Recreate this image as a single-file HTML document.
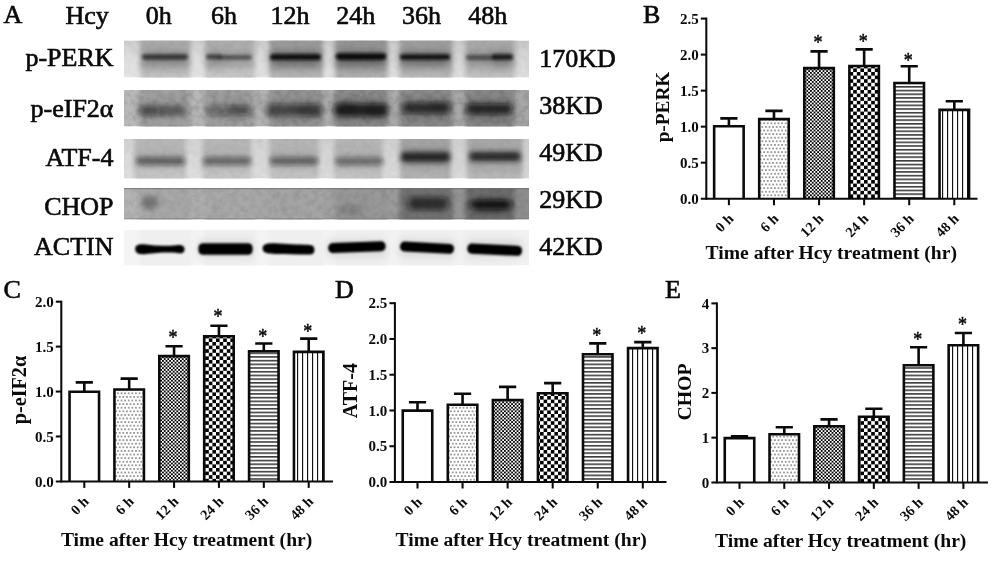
<!DOCTYPE html>
<html lang="en">
<head>
<meta charset="utf-8">
<title>Figure</title>
<style>
html,body{margin:0;padding:0;background:#fff;}
body{width:1000px;height:567px;overflow:hidden;}
svg{display:block;}
text{font-family:"Liberation Serif","DejaVu Serif",serif;fill:#0a0a0a;}
.lab{font-size:26px;stroke:#0a0a0a;stroke-width:0.65px;}
.b{font-weight:bold;}
.tk{font-size:15px;font-weight:bold;}
.xt{font-size:14.4px;font-weight:bold;}
.ti{font-size:19.6px;font-weight:bold;}
.yl{font-size:19.3px;font-weight:bold;}
.st{font-size:20px;stroke:#0a0a0a;stroke-width:0.5px;}
.ln{stroke:#0a0a0a;stroke-width:2.6;fill:none;}
.ax{stroke:#0a0a0a;stroke-width:2.05;fill:none;}
</style>
</head>
<body>
<svg width="1000" height="567" viewBox="0 0 1000 567">
<defs>
<pattern id="pdots" width="3.6" height="7.2" patternUnits="userSpaceOnUse">
<rect width="3.6" height="7.2" fill="#fff"/>
<rect x="0.3" y="0.3" width="1.25" height="1.25" fill="#2a2a2a"/>
<rect x="2.1" y="3.9" width="1.25" height="1.25" fill="#2a2a2a"/>
</pattern>
<pattern id="pfine" width="3.6" height="3.6" patternUnits="userSpaceOnUse">
<rect width="3.6" height="3.6" fill="#fff"/>
<rect x="0" y="0" width="1.8" height="1.8" fill="#000"/>
<rect x="1.8" y="1.8" width="1.8" height="1.8" fill="#000"/>
</pattern>
<pattern id="pbig" width="7.2" height="7.2" patternUnits="userSpaceOnUse">
<rect width="7.2" height="7.2" fill="#fff"/>
<rect x="0" y="0" width="3.6" height="3.6" fill="#000"/>
<rect x="3.6" y="3.6" width="3.6" height="3.6" fill="#000"/>
</pattern>
<pattern id="phor" width="8" height="3.7" patternUnits="userSpaceOnUse">
<rect width="8" height="3.7" fill="#fff"/>
<rect x="0" y="1.1" width="8" height="1.3" fill="#111"/>
</pattern>
<pattern id="pver" width="5" height="8" patternUnits="userSpaceOnUse">
<rect width="5" height="8" fill="#fff"/>
<rect x="2" y="0" width="1.15" height="8" fill="#111"/>
</pattern>
<filter id="bl1" x="-20%" y="-100%" width="140%" height="300%"><feGaussianBlur stdDeviation="1.6 1.1"/></filter>
<filter id="bl2" x="-20%" y="-100%" width="140%" height="300%"><feGaussianBlur stdDeviation="3 2.4"/></filter>
<filter id="bl3" x="-20%" y="-100%" width="140%" height="300%"><feGaussianBlur stdDeviation="2.2 1.8"/></filter>
<filter id="bl4" x="-30%" y="-100%" width="160%" height="300%"><feGaussianBlur stdDeviation="4 3"/></filter>
<filter id="bl5" x="-20%" y="-100%" width="140%" height="300%"><feGaussianBlur stdDeviation="1.8 1.2"/></filter>
<filter id="lane" x="-20%" y="-20%" width="140%" height="140%"><feGaussianBlur stdDeviation="2 0.1"/></filter>
<filter id="halo" x="-30%" y="-100%" width="160%" height="300%"><feGaussianBlur stdDeviation="4 4"/></filter>
<filter id="noise" x="0" y="0" width="100%" height="100%">
<feTurbulence type="fractalNoise" baseFrequency="0.16" numOctaves="3" seed="7" result="n"/>
<feColorMatrix in="n" type="matrix" values="0 0 0 0 0  0 0 0 0 0  0 0 0 0 0  1.2 0 0 0 -0.45"/>
</filter>

<clipPath id="cs0"><rect x="124" y="40.5" width="405" height="37"/></clipPath>
<clipPath id="cs1"><rect x="124" y="90" width="405" height="36.5"/></clipPath>
<clipPath id="cs2"><rect x="124" y="139" width="405" height="39.5"/></clipPath>
<clipPath id="cs3"><rect x="124" y="188" width="405" height="31.5"/></clipPath>
<clipPath id="cs4"><rect x="124" y="230" width="405" height="35.5"/></clipPath>
</defs>
<rect width="1000" height="567" fill="#fff"/>
<g class="lab">
<text x="3.5" y="22.8">A</text>
<text x="65.5" y="23.5">Hcy</text>
<text x="158.7" y="24" text-anchor="middle">0h</text>
<text x="224" y="24" text-anchor="middle">6h</text>
<text x="290" y="24" text-anchor="middle">12h</text>
<text x="355.7" y="24" text-anchor="middle">24h</text>
<text x="421.5" y="24" text-anchor="middle">36h</text>
<text x="487.8" y="24" text-anchor="middle">48h</text>
<text x="113.5" y="65.6" text-anchor="end">p-PERK</text>
<text x="539.3" y="66.6">170KD</text>
<text x="113.5" y="116.7" text-anchor="end">p-eIF2α</text>
<text x="539.3" y="113.5">38KD</text>
<text x="113.5" y="166" text-anchor="end">ATF-4</text>
<text x="539.3" y="160.7">49KD</text>
<text x="113.5" y="215" text-anchor="end">CHOP</text>
<text x="539.3" y="208.2">29KD</text>
<text x="113.5" y="254.5" text-anchor="end">ACTIN</text>
<text x="539.3" y="254.7">42KD</text>
</g>
<linearGradient id="sg0" x1="0" x2="1" y1="0" y2="0"><stop offset="0" stop-color="#e0e0e0"/><stop offset="1" stop-color="#d8d8d8"/></linearGradient>
<filter id="bf0" x="-30%" y="-150%" width="160%" height="400%"><feGaussianBlur stdDeviation="1.8 1.4"/></filter>
<g clip-path="url(#cs0)">
<rect x="124" y="40.5" width="405" height="37" fill="url(#sg0)"/>
<g filter="url(#lane)">
<rect x="140" y="38.5" width="50.5" height="41" fill="#b8b8b8"/>
<rect x="205" y="38.5" width="50" height="41" fill="#bcbcbc"/>
<rect x="269.5" y="38.5" width="53.5" height="41" fill="#a8a8a8"/>
<rect x="335" y="38.5" width="52.5" height="41" fill="#a2a2a2"/>
<rect x="399.5" y="38.5" width="53" height="41" fill="#acacac"/>
<rect x="465.5" y="38.5" width="49" height="41" fill="#b6b6b6"/>
</g>
<linearGradient id="vg0" x1="0" x2="0" y1="0" y2="1"><stop offset="0" stop-color="#000" stop-opacity="0.09"/><stop offset=".45" stop-color="#000" stop-opacity="0"/><stop offset=".55" stop-color="#fff" stop-opacity="0"/><stop offset="1" stop-color="#fff" stop-opacity="0.16"/></linearGradient>
<rect x="124" y="40.5" width="405" height="37" fill="url(#vg0)"/>
<g filter="url(#halo)" opacity="0.36">
<rect x="142" y="51" width="46" height="16" fill="#000" opacity="0.72"/>
<rect x="206" y="51" width="16" height="16" fill="#000" opacity="0.64"/>
<rect x="218" y="51" width="34" height="16" fill="#000" opacity="0.46"/>
<rect x="270" y="51" width="51" height="16" fill="#000" opacity="0.97"/>
<rect x="336" y="51" width="50" height="16" fill="#000" opacity="1"/>
<rect x="400" y="51" width="50" height="16" fill="#000" opacity="0.95"/>
<rect x="466" y="51" width="30" height="16" fill="#000" opacity="0.56"/>
<rect x="492" y="51" width="21" height="16" fill="#000" opacity="0.85"/>
</g>
<g filter="url(#bf0)">
<rect x="142" y="54.6" width="46" height="4.8" rx="2.4" fill="#0c0c0c" opacity="0.72"/>
<rect x="206" y="54.4" width="16" height="4.8" rx="2.4" fill="#0c0c0c" opacity="0.64"/>
<rect x="218" y="55.1" width="34" height="4.6" rx="2.3" fill="#0c0c0c" opacity="0.46"/>
<rect x="270" y="53.9" width="51" height="6.2" rx="3.1" fill="#0c0c0c" opacity="0.97"/>
<rect x="336" y="53.3" width="50" height="6.6" rx="3.3" fill="#0c0c0c" opacity="1"/>
<rect x="400" y="54.2" width="50" height="5.6" rx="2.8" fill="#0c0c0c" opacity="0.95"/>
<rect x="466" y="54.9" width="30" height="4.8" rx="2.4" fill="#0c0c0c" opacity="0.56"/>
<rect x="492" y="54" width="21" height="6" rx="3" fill="#0c0c0c" opacity="0.85"/>
</g>
<rect x="124" y="40.5" width="405" height="37" fill="#000" filter="url(#noise)" opacity="0.07"/>
</g>
<linearGradient id="sg1" x1="0" x2="1" y1="0" y2="0"><stop offset="0" stop-color="#bababa"/><stop offset="1" stop-color="#a6a6a6"/></linearGradient>
<filter id="bf1" x="-30%" y="-150%" width="160%" height="400%"><feGaussianBlur stdDeviation="3.2 2.4"/></filter>
<g clip-path="url(#cs1)">
<rect x="124" y="90" width="405" height="36.5" fill="url(#sg1)"/>
<g filter="url(#lane)">
<rect x="140" y="88" width="50.5" height="40.5" fill="#a2a2a2"/>
<rect x="205" y="88" width="50" height="40.5" fill="#a0a0a0"/>
<rect x="269.5" y="88" width="53.5" height="40.5" fill="#969696"/>
<rect x="335" y="88" width="52.5" height="40.5" fill="#8c8c8c"/>
<rect x="399.5" y="88" width="53" height="40.5" fill="#8c8c8c"/>
<rect x="465.5" y="88" width="49" height="40.5" fill="#8a8a8a"/>
</g>
<g filter="url(#halo)" opacity="0.14">
<rect x="138" y="98" width="48" height="24" fill="#000" opacity="0.4"/>
<rect x="140" y="98" width="20" height="24" fill="#000" opacity="0.22"/>
<rect x="206" y="98" width="44" height="24" fill="#000" opacity="0.36"/>
<rect x="228" y="98" width="22" height="24" fill="#000" opacity="0.25"/>
<rect x="266" y="98" width="56" height="24" fill="#000" opacity="0.56"/>
<rect x="296" y="98" width="26" height="24" fill="#000" opacity="0.24"/>
<rect x="334" y="98" width="54" height="24" fill="#000" opacity="0.78"/>
<rect x="336" y="98" width="22" height="24" fill="#000" opacity="0.4"/>
<rect x="364" y="98" width="22" height="24" fill="#000" opacity="0.4"/>
<rect x="402" y="98" width="48" height="24" fill="#000" opacity="0.74"/>
<rect x="430" y="98" width="20" height="24" fill="#000" opacity="0.24"/>
<rect x="466" y="98" width="46" height="24" fill="#000" opacity="0.78"/>
</g>
<g filter="url(#bf1)">
<rect x="138" y="105.5" width="48" height="10" rx="4.5" fill="#101010" opacity="0.4"/>
<rect x="140" y="106" width="20" height="10" rx="4.5" fill="#101010" opacity="0.22"/>
<rect x="206" y="105.5" width="44" height="10" rx="4.5" fill="#101010" opacity="0.36"/>
<rect x="228" y="104.5" width="22" height="11" rx="4.5" fill="#101010" opacity="0.25"/>
<rect x="266" y="104" width="56" height="12" rx="4.5" fill="#101010" opacity="0.56"/>
<rect x="296" y="105.5" width="26" height="11" rx="4.5" fill="#101010" opacity="0.24"/>
<rect x="334" y="103.5" width="54" height="13" rx="4.5" fill="#101010" opacity="0.78"/>
<rect x="336" y="102.5" width="22" height="13" rx="4.5" fill="#101010" opacity="0.4"/>
<rect x="364" y="105" width="22" height="12" rx="4.5" fill="#101010" opacity="0.4"/>
<rect x="402" y="102.5" width="48" height="11" rx="4.5" fill="#101010" opacity="0.74"/>
<rect x="430" y="101.5" width="20" height="11" rx="4.5" fill="#101010" opacity="0.24"/>
<rect x="466" y="103.5" width="46" height="11" rx="4.5" fill="#101010" opacity="0.78"/>
</g>
<rect x="124" y="90" width="405" height="36.5" fill="#000" filter="url(#noise)" opacity="0.22"/>
</g>
<linearGradient id="sg2" x1="0" x2="1" y1="0" y2="0"><stop offset="0" stop-color="#dadada"/><stop offset="1" stop-color="#d4d4d4"/></linearGradient>
<filter id="bf2" x="-30%" y="-150%" width="160%" height="400%"><feGaussianBlur stdDeviation="2.6 2.5"/></filter>
<g clip-path="url(#cs2)">
<rect x="124" y="139" width="405" height="39.5" fill="url(#sg2)"/>
<g filter="url(#lane)">
<rect x="134" y="137" width="51.5" height="43.5" fill="#bcbcbc"/>
<rect x="202.5" y="137" width="48.5" height="43.5" fill="#bcbcbc"/>
<rect x="269.5" y="137" width="49.25" height="43.5" fill="#bababa"/>
<rect x="334.5" y="137" width="48" height="43.5" fill="#bababa"/>
<rect x="400" y="137" width="51" height="43.5" fill="#a8a8a8"/>
<rect x="467" y="137" width="55.5" height="43.5" fill="#acacac"/>
</g>
<linearGradient id="vg2" x1="0" x2="0" y1="0" y2="1"><stop offset="0" stop-color="#000" stop-opacity="0.03"/><stop offset=".45" stop-color="#000" stop-opacity="0"/><stop offset=".55" stop-color="#fff" stop-opacity="0"/><stop offset="1" stop-color="#fff" stop-opacity="0.14"/></linearGradient>
<rect x="124" y="139" width="405" height="39.5" fill="url(#vg2)"/>
<g filter="url(#halo)" opacity="0.1">
<rect x="136" y="149" width="49" height="18" fill="#000" opacity="0.54"/>
<rect x="203" y="149" width="48" height="18" fill="#000" opacity="0.5"/>
<rect x="270" y="149" width="48" height="18" fill="#000" opacity="0.52"/>
<rect x="335" y="149" width="48" height="18" fill="#000" opacity="0.47"/>
<rect x="401" y="149" width="49" height="18" fill="#000" opacity="0.95"/>
<rect x="469" y="149" width="52" height="18" fill="#000" opacity="0.88"/>
</g>
<g filter="url(#bf2)">
<rect x="136" y="157" width="49" height="8" rx="4" fill="#1a1a1a" opacity="0.54"/>
<rect x="203" y="157" width="48" height="8" rx="4" fill="#1a1a1a" opacity="0.5"/>
<rect x="270" y="157" width="48" height="8" rx="4" fill="#1a1a1a" opacity="0.52"/>
<rect x="335" y="157.3" width="48" height="8" rx="4" fill="#1a1a1a" opacity="0.47"/>
<rect x="401" y="152" width="49" height="10" rx="4.5" fill="#1a1a1a" opacity="0.95"/>
<rect x="469" y="152.1" width="52" height="9" rx="4.5" fill="#1a1a1a" opacity="0.88"/>
</g>
<rect x="124" y="139" width="405" height="39.5" fill="#000" filter="url(#noise)" opacity="0.07"/>
</g>
<linearGradient id="sg3" x1="0" x2="1" y1="0" y2="0"><stop offset="0" stop-color="#b4b4b4"/><stop offset="1" stop-color="#8e8e8e"/></linearGradient>
<filter id="bf3" x="-30%" y="-150%" width="160%" height="400%"><feGaussianBlur stdDeviation="3.6 2.8"/></filter>
<g clip-path="url(#cs3)">
<rect x="124" y="188" width="405" height="31.5" fill="url(#sg3)"/>
<g filter="url(#lane)">
<rect x="140" y="186" width="50.5" height="35.5" fill="#a8a8a8"/>
<rect x="205" y="186" width="50" height="35.5" fill="#a8a8a8"/>
<rect x="269.5" y="186" width="53.5" height="35.5" fill="#a4a4a4"/>
<rect x="335" y="186" width="52.5" height="35.5" fill="#989898"/>
<rect x="399.5" y="186" width="53" height="35.5" fill="#727272"/>
<rect x="465.5" y="186" width="49" height="35.5" fill="#6c6c6c"/>
</g>
<g filter="url(#bf3)">
<rect x="142" y="196" width="16" height="13" rx="4.5" fill="#101010" opacity="0.3"/>
<rect x="338" y="204" width="24" height="12" rx="4.5" fill="#101010" opacity="0.13"/>
<rect x="408" y="197" width="40" height="13" rx="4.5" fill="#101010" opacity="0.7"/>
<rect x="470" y="200" width="42" height="9" rx="4.5" fill="#101010" opacity="0.92"/>
<rect x="474" y="198" width="34" height="16" rx="4.5" fill="#101010" opacity="0.3"/>
</g>
<rect x="124" y="188" width="405" height="31.5" fill="#000" filter="url(#noise)" opacity="0.15"/>
<rect x="124" y="188" width="405" height="1.2" fill="#6e6e6e" opacity=".7"/>
<rect x="124" y="218.3" width="405" height="1.2" fill="#6e6e6e" opacity=".5"/>
</g>
<linearGradient id="sg4" x1="0" x2="1" y1="0" y2="0"><stop offset="0" stop-color="#f4f4f4"/><stop offset="1" stop-color="#f1f1f1"/></linearGradient>
<filter id="bf4" x="-30%" y="-150%" width="160%" height="400%"><feGaussianBlur stdDeviation="1.3 0.9"/></filter>
<g clip-path="url(#cs4)">
<rect x="124" y="230" width="405" height="35.5" fill="url(#sg4)"/>
<g filter="url(#lane)">
<rect x="140" y="228" width="50.5" height="39.5" fill="#efefef"/>
<rect x="205" y="228" width="50" height="39.5" fill="#efefef"/>
<rect x="269.5" y="228" width="53.5" height="39.5" fill="#efefef"/>
<rect x="335" y="228" width="52.5" height="39.5" fill="#efefef"/>
<rect x="399.5" y="228" width="53" height="39.5" fill="#efefef"/>
<rect x="465.5" y="228" width="49" height="39.5" fill="#efefef"/>
</g>
<g filter="url(#halo)" opacity="0.1">
<rect x="198.4" y="240.5" width="54.2" height="16" fill="#000" opacity="1"/>
<rect x="328.2" y="240.5" width="57.4" height="16" fill="#000" opacity="1"/>
<rect x="400" y="240.5" width="54" height="16" fill="#000" opacity="1"/>
<rect x="467.3" y="240.5" width="54.7" height="16" fill="#000" opacity="1"/>
</g>
<g filter="url(#bf4)">
<rect x="198.4" y="243.2" width="54.2" height="11.6" rx="4.5" fill="#030303" opacity="1"/>
<rect x="328.2" y="242.1" width="57.4" height="10" rx="4.5" fill="#030303" opacity="1" transform="rotate(-2.1 356.9 247.1)"/>
<rect x="400" y="242.7" width="54" height="10" rx="4.5" fill="#030303" opacity="1" transform="rotate(3 427 247.7)"/>
<rect x="467.3" y="244.6" width="54.7" height="10.2" rx="4.5" fill="#030303" opacity="1" transform="rotate(2.6 494.65 249.7)"/>
<path d="M135.2 249C135.2 244.6 140 243.6 146 244.6C156 246 166 246.2 176 245.3C181 244.7 184.4 245.2 184.6 249.4C184.4 253.3 181 253.9 176 252.7C166 252.2 156 252.6 146 254.1C140 254.8 135.2 253.8 135.2 249Z" fill="#030303"/>
<path d="M262.6 248.6C262.6 243.8 267 242.9 275 243.2C285 243.9 300 244.6 308 244.8C313 245 314.4 246.6 314.4 249.8C314.4 253.3 313 254.7 308 254.6C298 254.5 285 254.4 275 254.1C267 253.8 262.6 253 262.6 248.6Z" fill="#030303"/>
</g>
</g>
<g>
<text class="lab" x="643" y="22.8">B</text>
<text class="tk" x="698.7" y="203.8" text-anchor="end">0.0</text>
<path class="ax" d="M700.8 162.68H706.3"/>
<text class="tk" x="698.7" y="167.78" text-anchor="end">0.5</text>
<path class="ax" d="M700.8 126.66H706.3"/>
<text class="tk" x="698.7" y="131.76" text-anchor="end">1.0</text>
<path class="ax" d="M700.8 90.64H706.3"/>
<text class="tk" x="698.7" y="95.74" text-anchor="end">1.5</text>
<path class="ax" d="M700.8 54.62H706.3"/>
<text class="tk" x="698.7" y="59.72" text-anchor="end">2.0</text>
<path class="ax" d="M700.8 18.6H706.3"/>
<text class="tk" x="698.7" y="23.7" text-anchor="end">2.5</text>
<path class="ln" d="M728.9 126.2V118.4M720.3 118.4H737.5"/>
<path class="ln" d="M714.15 198.7V126.2H743.65V198.7" style="fill:#fff"/>
<path class="ax" d="M728.9 198.7V205.2"/>
<text class="xt" transform="translate(734.3 219.7) rotate(-45)" text-anchor="end">0 h</text>
<path class="ln" d="M773.98 119.1V110.9M765.38 110.9H782.58"/>
<path class="ln" d="M759.23 198.7V119.1H788.73V198.7" style="fill:url(#pdots)"/>
<path class="ax" d="M773.98 198.7V205.2"/>
<text class="xt" transform="translate(779.38 219.7) rotate(-45)" text-anchor="end">6 h</text>
<path class="ln" d="M819.06 68.1V51.4M810.46 51.4H827.66"/>
<path class="ln" d="M804.31 198.7V68.1H833.81V198.7" style="fill:url(#pfine)"/>
<path class="ax" d="M819.06 198.7V205.2"/>
<text class="xt" transform="translate(824.46 219.7) rotate(-45)" text-anchor="end">12 h</text>
<text class="st" transform="translate(818.06 49.35) scale(.9 1.1)" text-anchor="middle">*</text>
<path class="ln" d="M864.14 66V49.4M855.54 49.4H872.74"/>
<path class="ln" d="M849.39 198.7V66H878.89V198.7" style="fill:url(#pbig)"/>
<path class="ax" d="M864.14 198.7V205.2"/>
<text class="xt" transform="translate(869.54 219.7) rotate(-45)" text-anchor="end">24 h</text>
<text class="st" transform="translate(863.14 47.5) scale(.9 1.1)" text-anchor="middle">*</text>
<path class="ln" d="M909.22 83V66.2M900.62 66.2H917.82"/>
<path class="ln" d="M894.47 198.7V83H923.97V198.7" style="fill:url(#phor)"/>
<path class="ax" d="M909.22 198.7V205.2"/>
<text class="xt" transform="translate(914.62 219.7) rotate(-45)" text-anchor="end">36 h</text>
<text class="st" transform="translate(908.22 66.5) scale(.9 1.1)" text-anchor="middle">*</text>
<path class="ln" d="M954.3 109.9V101.25M945.7 101.25H962.9"/>
<path class="ln" d="M939.55 198.7V109.9H969.05V198.7" style="fill:url(#pver)"/>
<path class="ax" d="M954.3 198.7V205.2"/>
<text class="xt" transform="translate(959.7 219.7) rotate(-45)" text-anchor="end">48 h</text>
<path class="ax" d="M706.3 17.6V199.7"/>
<path class="ax" d="M700.8 198.7H977.5"/>
<text class="yl" style="font-size:19.3px" transform="translate(669.4 107) rotate(-90)" text-anchor="middle">p-PERK</text>
<text class="ti" x="705.6" y="258.8">Time after Hcy treatment (hr)</text>
</g>
<g>
<text class="lab" x="3.5" y="297.8">C</text>
<text class="tk" x="53.7" y="486.5" text-anchor="end">0.0</text>
<path class="ax" d="M55.8 436.47H61.3"/>
<text class="tk" x="53.7" y="441.57" text-anchor="end">0.5</text>
<path class="ax" d="M55.8 391.55H61.3"/>
<text class="tk" x="53.7" y="396.65" text-anchor="end">1.0</text>
<path class="ax" d="M55.8 346.62H61.3"/>
<text class="tk" x="53.7" y="351.73" text-anchor="end">1.5</text>
<path class="ax" d="M55.8 301.7H61.3"/>
<text class="tk" x="53.7" y="306.8" text-anchor="end">2.0</text>
<path class="ln" d="M84.3 391.7V382.4M75.7 382.4H92.9"/>
<path class="ln" d="M69.55 481.4V391.7H99.05V481.4" style="fill:#fff"/>
<path class="ax" d="M84.3 481.4V487.9"/>
<text class="xt" transform="translate(89.7 502.4) rotate(-45)" text-anchor="end">0 h</text>
<path class="ln" d="M129.18 389.5V378.6M120.58 378.6H137.78"/>
<path class="ln" d="M114.43 481.4V389.5H143.93V481.4" style="fill:url(#pdots)"/>
<path class="ax" d="M129.18 481.4V487.9"/>
<text class="xt" transform="translate(134.58 502.4) rotate(-45)" text-anchor="end">6 h</text>
<path class="ln" d="M174.06 356.1V346.25M165.46 346.25H182.66"/>
<path class="ln" d="M159.31 481.4V356.1H188.81V481.4" style="fill:url(#pfine)"/>
<path class="ax" d="M174.06 481.4V487.9"/>
<text class="xt" transform="translate(179.46 502.4) rotate(-45)" text-anchor="end">12 h</text>
<text class="st" transform="translate(173.06 344.35) scale(.9 1.1)" text-anchor="middle">*</text>
<path class="ln" d="M218.94 336.2V325.75M210.34 325.75H227.54"/>
<path class="ln" d="M204.19 481.4V336.2H233.69V481.4" style="fill:url(#pbig)"/>
<path class="ax" d="M218.94 481.4V487.9"/>
<text class="xt" transform="translate(224.34 502.4) rotate(-45)" text-anchor="end">24 h</text>
<text class="st" transform="translate(217.94 322.5) scale(.9 1.1)" text-anchor="middle">*</text>
<path class="ln" d="M263.82 351.2V343.5M255.22 343.5H272.42"/>
<path class="ln" d="M249.07 481.4V351.2H278.57V481.4" style="fill:url(#phor)"/>
<path class="ax" d="M263.82 481.4V487.9"/>
<text class="xt" transform="translate(269.22 502.4) rotate(-45)" text-anchor="end">36 h</text>
<text class="st" transform="translate(262.82 343.1) scale(.9 1.1)" text-anchor="middle">*</text>
<path class="ln" d="M308.7 351.9V338.6M300.1 338.6H317.3"/>
<path class="ln" d="M293.95 481.4V351.9H323.45V481.4" style="fill:url(#pver)"/>
<path class="ax" d="M308.7 481.4V487.9"/>
<text class="xt" transform="translate(314.1 502.4) rotate(-45)" text-anchor="end">48 h</text>
<text class="st" transform="translate(307.7 337.8) scale(.9 1.1)" text-anchor="middle">*</text>
<path class="ax" d="M61.3 300.7V482.4"/>
<path class="ax" d="M55.8 481.4H333"/>
<text class="yl" style="font-size:20.2px" transform="translate(25.8 390) rotate(-90)" text-anchor="middle">p-eIF2α</text>
<text class="ti" x="60.9" y="545.8">Time after Hcy treatment (hr)</text>
</g>
<g>
<text class="lab" x="335" y="297.8">D</text>
<text class="tk" x="387.3" y="487.1" text-anchor="end">0.0</text>
<path class="ax" d="M389.4 446.24H394.9"/>
<text class="tk" x="387.3" y="451.34" text-anchor="end">0.5</text>
<path class="ax" d="M389.4 410.48H394.9"/>
<text class="tk" x="387.3" y="415.58" text-anchor="end">1.0</text>
<path class="ax" d="M389.4 374.72H394.9"/>
<text class="tk" x="387.3" y="379.82" text-anchor="end">1.5</text>
<path class="ax" d="M389.4 338.96H394.9"/>
<text class="tk" x="387.3" y="344.06" text-anchor="end">2.0</text>
<path class="ax" d="M389.4 303.2H394.9"/>
<text class="tk" x="387.3" y="308.3" text-anchor="end">2.5</text>
<path class="ln" d="M417.5 410.6V402.25M408.9 402.25H426.1"/>
<path class="ln" d="M402.75 482V410.6H432.25V482" style="fill:#fff"/>
<path class="ax" d="M417.5 482V488.5"/>
<text class="xt" transform="translate(422.9 503) rotate(-45)" text-anchor="end">0 h</text>
<path class="ln" d="M462.56 404.7V393.75M453.96 393.75H471.16"/>
<path class="ln" d="M447.81 482V404.7H477.31V482" style="fill:url(#pdots)"/>
<path class="ax" d="M462.56 482V488.5"/>
<text class="xt" transform="translate(467.96 503) rotate(-45)" text-anchor="end">6 h</text>
<path class="ln" d="M507.62 400V386.9M499.02 386.9H516.22"/>
<path class="ln" d="M492.87 482V400H522.37V482" style="fill:url(#pfine)"/>
<path class="ax" d="M507.62 482V488.5"/>
<text class="xt" transform="translate(513.02 503) rotate(-45)" text-anchor="end">12 h</text>
<path class="ln" d="M552.68 393.2V383.1M544.08 383.1H561.28"/>
<path class="ln" d="M537.93 482V393.2H567.43V482" style="fill:url(#pbig)"/>
<path class="ax" d="M552.68 482V488.5"/>
<text class="xt" transform="translate(558.08 503) rotate(-45)" text-anchor="end">24 h</text>
<path class="ln" d="M597.74 354.3V343.4M589.14 343.4H606.34"/>
<path class="ln" d="M582.99 482V354.3H612.49V482" style="fill:url(#phor)"/>
<path class="ax" d="M597.74 482V488.5"/>
<text class="xt" transform="translate(603.14 503) rotate(-45)" text-anchor="end">36 h</text>
<text class="st" transform="translate(596.74 342) scale(.9 1.1)" text-anchor="middle">*</text>
<path class="ln" d="M642.8 348.1V342.1M634.2 342.1H651.4"/>
<path class="ln" d="M628.05 482V348.1H657.55V482" style="fill:url(#pver)"/>
<path class="ax" d="M642.8 482V488.5"/>
<text class="xt" transform="translate(648.2 503) rotate(-45)" text-anchor="end">48 h</text>
<text class="st" transform="translate(641.8 339.8) scale(.9 1.1)" text-anchor="middle">*</text>
<path class="ax" d="M394.9 302.2V483"/>
<path class="ax" d="M389.4 482H666.5"/>
<text class="yl" style="font-size:20px" transform="translate(357.3 390.7) rotate(-90)" text-anchor="middle">ATF-4</text>
<text class="ti" x="395.5" y="546.2">Time after Hcy treatment (hr)</text>
</g>
<g>
<text class="lab" x="665" y="297.8">E</text>
<text class="tk" x="709.3" y="487.5" text-anchor="end">0</text>
<path class="ax" d="M711.4 437.65H716.9"/>
<text class="tk" x="709.3" y="442.75" text-anchor="end">1</text>
<path class="ax" d="M711.4 392.9H716.9"/>
<text class="tk" x="709.3" y="398" text-anchor="end">2</text>
<path class="ax" d="M711.4 348.15H716.9"/>
<text class="tk" x="709.3" y="353.25" text-anchor="end">3</text>
<path class="ax" d="M711.4 303.4H716.9"/>
<text class="tk" x="709.3" y="308.5" text-anchor="end">4</text>
<path class="ln" d="M739.5 438.1V436.25M730.9 436.25H748.1"/>
<path class="ln" d="M724.75 482.4V438.1H754.25V482.4" style="fill:#fff"/>
<path class="ax" d="M739.5 482.4V488.9"/>
<text class="xt" transform="translate(744.9 503.4) rotate(-45)" text-anchor="end">0 h</text>
<path class="ln" d="M784.28 434.3V427.25M775.68 427.25H792.88"/>
<path class="ln" d="M769.53 482.4V434.3H799.03V482.4" style="fill:url(#pdots)"/>
<path class="ax" d="M784.28 482.4V488.9"/>
<text class="xt" transform="translate(789.68 503.4) rotate(-45)" text-anchor="end">6 h</text>
<path class="ln" d="M829.06 426.2V419.4M820.46 419.4H837.66"/>
<path class="ln" d="M814.31 482.4V426.2H843.81V482.4" style="fill:url(#pfine)"/>
<path class="ax" d="M829.06 482.4V488.9"/>
<text class="xt" transform="translate(834.46 503.4) rotate(-45)" text-anchor="end">12 h</text>
<path class="ln" d="M873.84 416.7V408.75M865.24 408.75H882.44"/>
<path class="ln" d="M859.09 482.4V416.7H888.59V482.4" style="fill:url(#pbig)"/>
<path class="ax" d="M873.84 482.4V488.9"/>
<text class="xt" transform="translate(879.24 503.4) rotate(-45)" text-anchor="end">24 h</text>
<path class="ln" d="M918.62 365.2V347.2M910.02 347.2H927.22"/>
<path class="ln" d="M903.87 482.4V365.2H933.37V482.4" style="fill:url(#phor)"/>
<path class="ax" d="M918.62 482.4V488.9"/>
<text class="xt" transform="translate(924.02 503.4) rotate(-45)" text-anchor="end">36 h</text>
<text class="st" transform="translate(917.62 345.6) scale(.9 1.1)" text-anchor="middle">*</text>
<path class="ln" d="M963.4 345.2V333M954.8 333H972"/>
<path class="ln" d="M948.65 482.4V345.2H978.15V482.4" style="fill:url(#pver)"/>
<path class="ax" d="M963.4 482.4V488.9"/>
<text class="xt" transform="translate(968.8 503.4) rotate(-45)" text-anchor="end">48 h</text>
<text class="st" transform="translate(962.4 330.5) scale(.9 1.1)" text-anchor="middle">*</text>
<path class="ax" d="M716.9 302.4V483.4"/>
<path class="ax" d="M711.4 482.4H988"/>
<text class="yl" style="font-size:19.8px" transform="translate(691.4 392) rotate(-90)" text-anchor="middle">CHOP</text>
<text class="ti" x="715" y="546.5">Time after Hcy treatment (hr)</text>
</g>
</svg>
</body>
</html>
